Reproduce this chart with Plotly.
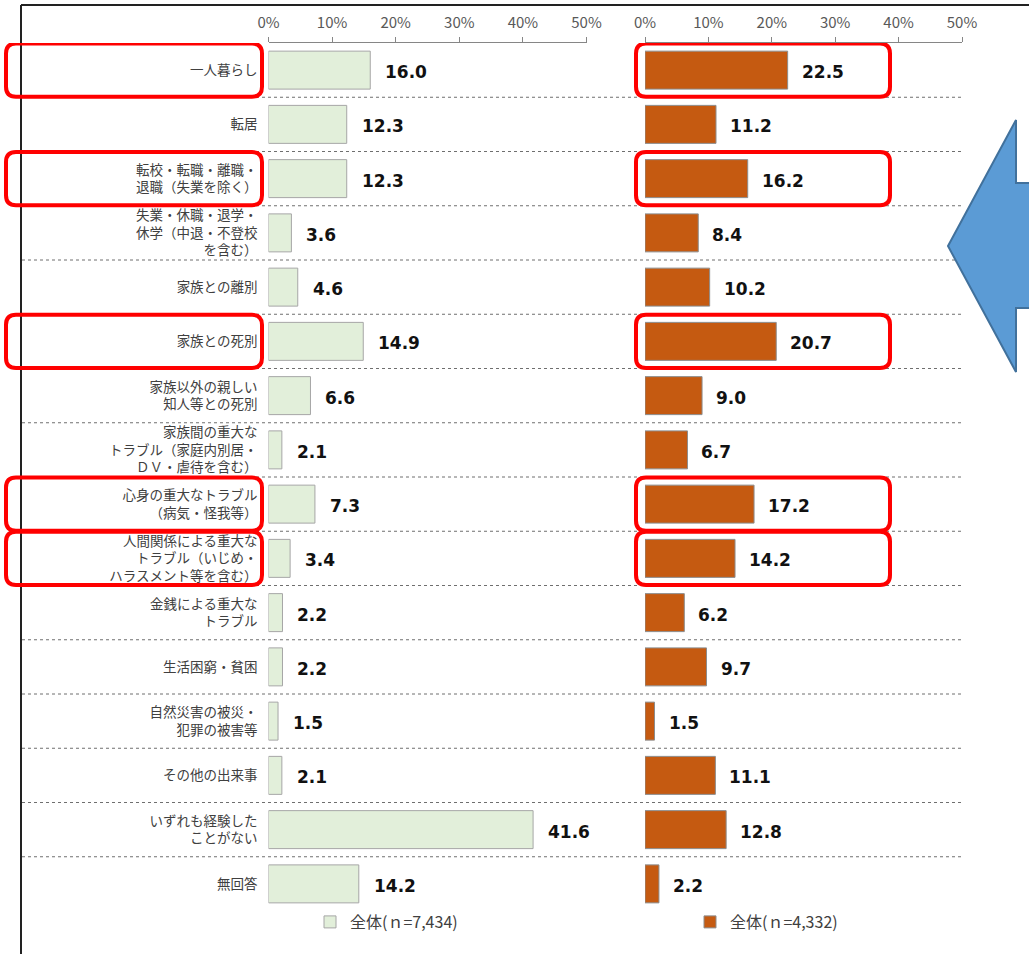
import plotly.graph_objects as go

W, H = 1029, 954

categories = [
    "一人暮らし",
    "転居",
    "転校・転職・離職・<br>退職（失業を除く）",
    "失業・休職・退学・<br>休学（中退・不登校<br>を含む）",
    "家族との離別",
    "家族との死別",
    "家族以外の親しい<br>知人等との死別",
    "家族間の重大な<br>トラブル（家庭内別居・<br>ＤＶ・虐待を含む）",
    "心身の重大なトラブル<br>（病気・怪我等）",
    "人間関係による重大な<br>トラブル（いじめ・<br>ハラスメント等を含む）",
    "金銭による重大な<br>トラブル",
    "生活困窮・貧困",
    "自然災害の被災・<br>犯罪の被害等",
    "その他の出来事",
    "いずれも経験した<br>ことがない",
    "無回答",
]
left_values = [16.0, 12.3, 12.3, 3.6, 4.6, 14.9, 6.6, 2.1, 7.3, 3.4, 2.2, 2.2, 1.5, 2.1, 41.6, 14.2]
right_values = [22.5, 11.2, 16.2, 8.4, 10.2, 20.7, 9.0, 6.7, 17.2, 14.2, 6.2, 9.7, 1.5, 11.1, 12.8, 2.2]
left_name = "全体(ｎ=7,434)"
right_name = "全体(ｎ=4,332)"
highlight_rows = [0, 2, 5, 8, 9]
tick_vals = [0, 10, 20, 30, 40, 50]
tick_text = ["0%", "10%", "20%", "30%", "40%", "50%"]

rows = list(range(len(categories)))

def px_x(p):
    return p / W

def px_y(p):
    return 1 - p / H

fig = go.Figure()
fig.add_trace(go.Bar(
    x=left_values, y=rows, orientation="h", name=left_name, width=0.7,
    marker=dict(color="#e2efda", line=dict(color="#a6a6a6", width=1)),
    xaxis="x", yaxis="y", hoverinfo="skip", legend="legend",
))
fig.add_trace(go.Bar(
    x=right_values, y=rows, orientation="h", name=right_name, width=0.7,
    marker=dict(color="#c55a11", line=dict(color="#8c8c8c", width=1)),
    xaxis="x2", yaxis="y2", hoverinfo="skip", legend="legend2",
))

annotations = []
for i, v in enumerate(left_values):
    annotations.append(dict(x=v, y=i, xref="x", yref="y", text=f"<b>{v:.1f}</b>",
                            showarrow=False, xanchor="left", xshift=13, yshift=-2,
                            font=dict(family="DejaVu Sans", size=17, color="#111111")))
for i, v in enumerate(right_values):
    annotations.append(dict(x=v, y=i, xref="x2", yref="y2", text=f"<b>{v:.1f}</b>",
                            showarrow=False, xanchor="left", xshift=12, yshift=-2,
                            font=dict(family="DejaVu Sans", size=17, color="#111111")))

shapes = []
# frame
shapes.append(dict(type="line", xref="paper", yref="paper", x0=px_x(21), x1=px_x(1035),
                   y0=px_y(5), y1=px_y(5), line=dict(color="#222222", width=2)))
shapes.append(dict(type="line", xref="paper", yref="paper", x0=px_x(21), x1=px_x(21),
                   y0=px_y(5), y1=px_y(960), line=dict(color="#222222", width=2)))
# row separators
for i in range(len(categories) - 1):
    shapes.append(dict(type="line", xref="paper", yref="y", x0=px_x(22), x1=px_x(962),
                       y0=i + 0.5, y1=i + 0.5, line=dict(color="#6f6f6f", width=1, dash="dot")))

def rounded(x0, x1, y0, y1, rx, ry):
    return (f"M{x0+rx},{y0} L{x1-rx},{y0} Q{x1},{y0} {x1},{y0+ry} L{x1},{y1-ry} "
            f"Q{x1},{y1} {x1-rx},{y1} L{x0+rx},{y1} Q{x0},{y1} {x0},{y1-ry} "
            f"L{x0},{y0+ry} Q{x0},{y0} {x0+rx},{y0} Z")

rx = 10 / W
ry = 10 / 54.25
for r in highlight_rows:
    y0, y1 = r - 0.49, r + 0.49
    for a, b in [(6, 262), (636, 890)]:
        shapes.append(dict(type="path", xref="paper", yref="y",
                           path=rounded(px_x(a), px_x(b), y0, y1, rx, ry),
                           line=dict(color="#ff0000", width=4)))

# blue arrow
pts = [(948, 246), (1016, 120), (1016, 183), (1040, 183), (1040, 308), (1016, 308), (1016, 372)]
arrow = "M" + " L".join(f"{px_x(a)},{px_y(b)}" for a, b in pts) + " Z"
shapes.append(dict(type="path", xref="paper", yref="paper", path=arrow,
                   fillcolor="#5b9bd5", line=dict(color="#41719c", width=2)))

ydom = [px_y(911), px_y(43)]
axis_common = dict(range=[0, 50], tickmode="array", tickvals=tick_vals, ticktext=tick_text,
                   side="top", showgrid=False, zeroline=False, showline=True, automargin=False,
                   linecolor="#868686", ticks="outside", ticklen=5, tickcolor="#868686",
                   ticklabelstandoff=3,
                   tickfont=dict(family="Noto Sans CJK JP", size=15, color="#595959"))

legend_common = dict(orientation="h", xanchor="left", yanchor="middle",
                     font=dict(family="Noto Sans CJK JP", size=16, color="#404040"),
                     bgcolor="rgba(0,0,0,0)", itemwidth=30)

fig.update_layout(
    width=W, height=H,
    margin=dict(l=0, r=0, t=0, b=0, autoexpand=False),
    paper_bgcolor="white", plot_bgcolor="rgba(0,0,0,0)",
    barmode="overlay",
    xaxis=dict(domain=[px_x(268.5), px_x(586.5)], anchor="y", **axis_common),
    xaxis2=dict(domain=[px_x(645), px_x(962)], anchor="y2", **axis_common),
    yaxis=dict(domain=ydom, range=[15.5, -0.5], tickmode="array", tickvals=rows,
               ticktext=categories, showgrid=False, zeroline=False, showline=False,
               ticks="", ticklabelstandoff=10, anchor="x", automargin=False,
               tickfont=dict(family="Liberation Sans, Noto Sans CJK JP", size=13.5,
                             color="#404040")),
    yaxis2=dict(domain=ydom, range=[15.5, -0.5], showticklabels=False, showgrid=False,
                zeroline=False, showline=False, ticks="", anchor="x2", matches="y",
                automargin=False),
    annotations=annotations,
    shapes=shapes,
    showlegend=True,
    legend=dict(x=px_x(310), y=px_y(922), **legend_common),
    legend2=dict(x=px_x(690), y=px_y(922), **legend_common),
)

fig.write_html("out.html", config={"displayModeBar": False},
               post_script="document.body.style.margin='0';document.body.style.overflow='hidden';")
